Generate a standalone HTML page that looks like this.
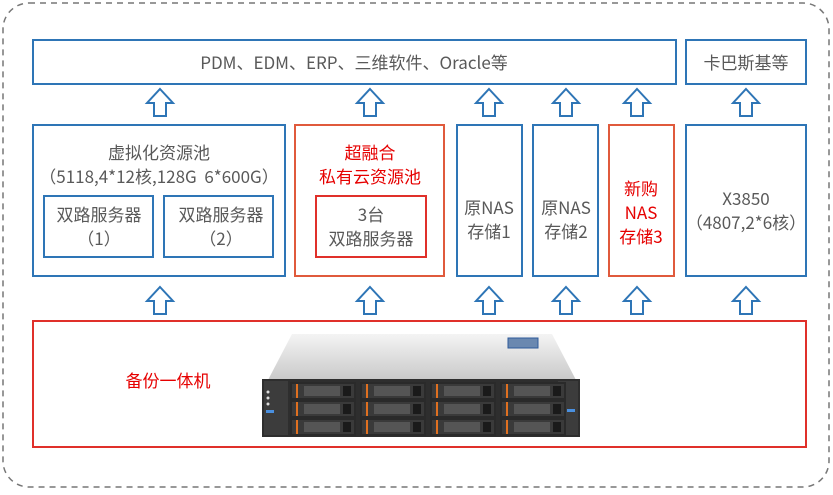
<!DOCTYPE html>
<html><head><meta charset="utf-8"><style>
html,body{margin:0;padding:0;background:#fff}
svg text{font-family:"Noto Sans CJK SC","Liberation Sans",sans-serif;font-size:17px;fill:#595959;white-space:pre}
.r{fill:#e60000}
</style></head><body>
<svg width="833" height="490" viewBox="0 0 833 490" xmlns="http://www.w3.org/2000/svg">
<defs>
<g id="ar"><path d="M0,-13 L13,1 L6,1 L6,14 L-6,14 L-6,1 L-13,1 Z" fill="#fff" stroke="#2e75b6" stroke-width="2"/></g>
<linearGradient id="lid" x1="0" y1="0" x2="0" y2="1"><stop offset="0" stop-color="#f4f4f4"/><stop offset="1" stop-color="#c9c9c9"/></linearGradient>
<g id="bay"><rect width="66" height="18" fill="#2a2a2a"/><rect x="2" y="2" width="62" height="14" fill="#3a3a3a"/><rect x="6" y="2" width="2" height="14" fill="#e07020"/><rect x="14" y="4" width="36" height="10" fill="#555"/><rect x="53" y="4" width="8" height="10" fill="#1a1a1a"/></g>
</defs>
<rect x="3" y="3" width="826" height="484" rx="26" fill="none" stroke="#777" stroke-width="1.5" stroke-dasharray="6,5"/>
<g fill="none" stroke="#2e75b6" stroke-width="2">
<rect x="33" y="40" width="643" height="44"/>
<rect x="686" y="40" width="120" height="44"/>
<rect x="33" y="125" width="252" height="151"/>
<rect x="44" y="196" width="109" height="61"/>
<rect x="164" y="196" width="109" height="61"/>
<rect x="457" y="125" width="65" height="151"/>
<rect x="533" y="125" width="65" height="151"/>
<rect x="686" y="125" width="120" height="151"/>
</g>
<g fill="none" stroke="#e05a3c" stroke-width="2">
<rect x="295" y="125" width="149" height="151"/>
<rect x="609" y="125" width="65" height="151"/>
</g>
<g fill="none" stroke="#e0302a" stroke-width="2">
<rect x="316" y="196" width="110" height="61"/>
<rect x="33" y="321" width="773" height="126"/>
</g>
<g>
<use href="#ar" x="160" y="102"/><use href="#ar" x="370" y="102"/><use href="#ar" x="489" y="102"/><use href="#ar" x="566" y="102"/><use href="#ar" x="637" y="102"/><use href="#ar" x="746" y="102"/>
<use href="#ar" x="160" y="300"/><use href="#ar" x="370" y="300"/><use href="#ar" x="489" y="300"/><use href="#ar" x="566" y="300"/><use href="#ar" x="637" y="300"/><use href="#ar" x="746" y="300"/>
</g>
<text x="354" y="69" text-anchor="middle" font-size="19">PDM、EDM、ERP、三维软件、Oracle等</text>
<text x="746" y="69" text-anchor="middle" font-size="18">卡巴斯基等</text>
<text x="159" y="159" text-anchor="middle">虚拟化资源池</text>
<text x="159" y="183" text-anchor="middle">（5118,4*12核,128G  6*600G）</text>
<text x="99" y="221" text-anchor="middle">双路服务器</text>
<text x="99" y="245" text-anchor="middle">（1）</text>
<text x="221" y="221" text-anchor="middle">双路服务器</text>
<text x="221" y="245" text-anchor="middle">（2）</text>
<text x="370" y="159" text-anchor="middle" class="r">超融合</text>
<text x="370" y="183" text-anchor="middle" class="r">私有云资源池</text>
<text x="371" y="221" text-anchor="middle">3台</text>
<text x="371" y="245" text-anchor="middle">双路服务器</text>
<text x="489" y="214" text-anchor="middle">原NAS</text>
<text x="489" y="238" text-anchor="middle">存储1</text>
<text x="566" y="214" text-anchor="middle">原NAS</text>
<text x="566" y="238" text-anchor="middle">存储2</text>
<text x="641" y="195" text-anchor="middle" class="r">新购</text>
<text x="641" y="219" text-anchor="middle" class="r">NAS</text>
<text x="641" y="243" text-anchor="middle" class="r">存储3</text>
<text x="746" y="205" text-anchor="middle">X3850</text>
<text x="746" y="229" text-anchor="middle">（4807,2*6核）</text>
<text x="168" y="387" text-anchor="middle" class="r" font-size="18">备份一体机</text>
<polygon points="268,380 292,334 552,334 576,380" fill="url(#lid)"/>
<rect x="508" y="338" width="30" height="10" fill="#6a88b0" stroke="#2e5a9a"/>
<rect x="262" y="379" width="318" height="58" fill="#2e2e2e"/>
<rect x="264" y="381" width="24" height="54" fill="#3c3c3c"/>
<rect x="558" y="381" width="20" height="54" fill="#3c3c3c"/>
<g>
<use href="#bay" x="290" y="382"/><use href="#bay" x="360" y="382"/><use href="#bay" x="430" y="382"/><use href="#bay" x="500" y="382"/>
<use href="#bay" x="290" y="400"/><use href="#bay" x="360" y="400"/><use href="#bay" x="430" y="400"/><use href="#bay" x="500" y="400"/>
<use href="#bay" x="290" y="418"/><use href="#bay" x="360" y="418"/><use href="#bay" x="430" y="418"/><use href="#bay" x="500" y="418"/>
</g>
<rect x="266" y="410" width="8" height="3" fill="#4a90e0"/><rect x="567" y="409" width="8" height="3" fill="#4a90e0"/>
<circle cx="268" cy="392" r="1.5" fill="#ddd"/><circle cx="268" cy="398" r="1.5" fill="#ddd"/><circle cx="268" cy="404" r="1.5" fill="#ddd"/>
</svg>
</body></html>
